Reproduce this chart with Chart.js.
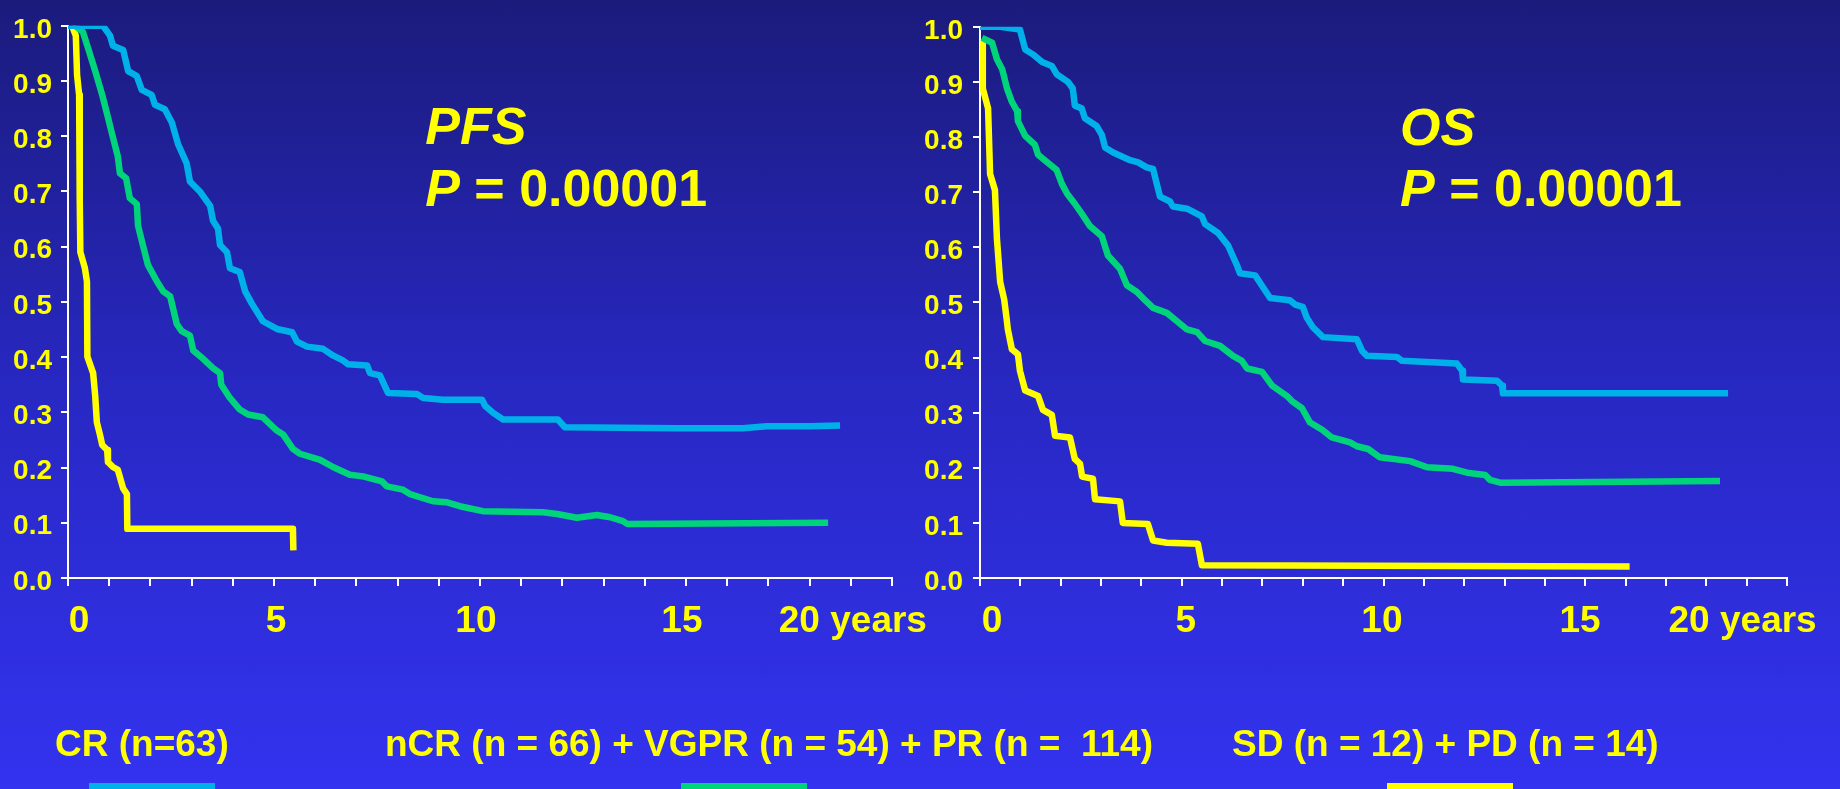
<!DOCTYPE html>
<html>
<head>
<meta charset="utf-8">
<script src="https://cdn.jsdelivr.net/npm/chart.js@4/dist/chart.umd.min.js"></script>
<style>
  html, body { margin: 0; padding: 0; }
  body {
    width: 1840px; height: 789px; overflow: hidden; position: relative;
    background: linear-gradient(to bottom, #1b1b7c 0%, #2828c4 50%, #3333f0 100%);
    font-family: "Liberation Sans", Arial, sans-serif;
  }
  canvas { position: absolute; top: 0; }
  #pfsChart { left: 0; }
  #osChart { left: 920px; }
  .group {
    position: absolute; top: 725px; color: #ffff00; white-space: pre;
    font: bold 37px/37px "Liberation Sans", Arial, sans-serif;
  }
  .swatch { position: absolute; top: 783px; width: 126px; height: 6px; }
</style>
</head>
<body>
<canvas id="pfsChart" width="960" height="789"></canvas>
<canvas id="osChart" width="920" height="789"></canvas>
<script>
// response groups
const groups = ["CR (n=63)", "nCR (n = 66) + VGPR (n = 54) + PR (n =  114)", "SD (n = 12) + PD (n = 14)"];
const groupColors = ["#00b0e8", "#00d47a", "#ffff00"];
const pValue = "0.00001";

// x tick labels (years)
const yearText = ["0", "5", "10", "15", "20 years"];

// PFS curves: time (years) / survival
const pfsCrT = [0, 0.85, 1.02, 1.09, 1.34, 1.46, 1.67, 1.79, 2.03, 2.11, 2.35, 2.52, 2.67, 2.88, 2.96, 3.2, 3.45, 3.52, 3.64, 3.69, 3.86, 3.93, 4.17, 4.3, 4.47, 4.73, 5.07, 5.44, 5.56, 5.8, 6.19, 6.43, 6.67, 6.8, 7.26, 7.33, 7.57, 7.77, 8.47, 8.62, 9.1, 10.05, 10.12, 10.32, 10.56, 11.89, 12.06, 14.78, 16.38, 16.96, 18.0, 18.74];
const pfsCrS = [1.0, 1.0, 0.982, 0.964, 0.956, 0.918, 0.909, 0.884, 0.875, 0.857, 0.849, 0.825, 0.786, 0.751, 0.718, 0.70, 0.674, 0.647, 0.633, 0.603, 0.59, 0.561, 0.554, 0.519, 0.496, 0.465, 0.451, 0.445, 0.428, 0.419, 0.415, 0.403, 0.394, 0.387, 0.385, 0.371, 0.367, 0.335, 0.333, 0.326, 0.323, 0.323, 0.312, 0.299, 0.287, 0.287, 0.273, 0.271, 0.271, 0.275, 0.275, 0.276];

const pfsPrT = [0, 0.17, 0.36, 0.49, 0.66, 0.83, 0.95, 1.07, 1.21, 1.26, 1.41, 1.5, 1.67, 1.7, 1.82, 1.94, 2.16, 2.31, 2.48, 2.64, 2.76, 2.96, 3.04, 3.28, 3.52, 3.69, 3.72, 3.93, 4.17, 4.37, 4.73, 5.07, 5.22, 5.46, 5.63, 6.12, 6.43, 6.84, 7.16, 7.62, 7.74, 8.13, 8.3, 8.86, 9.2, 9.51, 10.07, 11.53, 11.87, 12.35, 12.84, 13.16, 13.47, 13.57, 18.45];
const pfsPrS = [1.0, 1.0, 0.989, 0.959, 0.918, 0.875, 0.84, 0.804, 0.763, 0.733, 0.724, 0.688, 0.677, 0.638, 0.602, 0.567, 0.537, 0.519, 0.51, 0.46, 0.447, 0.439, 0.412, 0.397, 0.38, 0.371, 0.35, 0.326, 0.305, 0.296, 0.291, 0.267, 0.26, 0.234, 0.225, 0.214, 0.201, 0.187, 0.184, 0.175, 0.166, 0.16, 0.152, 0.139, 0.137, 0.13, 0.121, 0.119, 0.116, 0.109, 0.114, 0.11, 0.103, 0.098, 0.10];

const pfsSdT = [0.1, 0.19, 0.22, 0.27, 0.28, 0.29, 0.30, 0.41, 0.46, 0.47, 0.61, 0.66, 0.70, 0.78, 0.83, 0.95, 0.97, 1.09, 1.21, 1.34, 1.43, 1.44, 5.46, 5.47];
const pfsSdS = [1.0, 0.982, 0.911, 0.875, 0.804, 0.686, 0.59, 0.561, 0.537, 0.401, 0.371, 0.33, 0.282, 0.258, 0.241, 0.232, 0.21, 0.201, 0.196, 0.162, 0.152, 0.089, 0.089, 0.05];

// OS curves
const osCrT = [0, 0.5, 0.99, 1.12, 1.31, 1.54, 1.78, 1.9, 2.18, 2.3, 2.35, 2.52, 2.6, 2.89, 3.02, 3.1, 3.3, 3.72, 3.92, 4.13, 4.29, 4.34, 4.46, 4.71, 4.78, 5.13, 5.5, 5.58, 5.9, 6.15, 6.37, 6.44, 6.82, 7.01, 7.19, 7.68, 7.81, 8.0, 8.1, 8.25, 8.5, 9.34, 9.47, 9.59, 10.33, 10.46, 11.82, 11.95, 11.97, 12.81, 12.94, 12.96, 18.54];
const osCrS = [1.0, 1.0, 0.995, 0.959, 0.95, 0.936, 0.929, 0.914, 0.90, 0.888, 0.857, 0.852, 0.834, 0.82, 0.804, 0.781, 0.772, 0.758, 0.754, 0.745, 0.742, 0.727, 0.692, 0.683, 0.674, 0.67, 0.656, 0.642, 0.626, 0.603, 0.567, 0.553, 0.549, 0.528, 0.508, 0.504, 0.496, 0.492, 0.472, 0.455, 0.437, 0.433, 0.412, 0.403, 0.401, 0.394, 0.389, 0.376, 0.36, 0.358, 0.349, 0.335, 0.335];

const osPrT = [0.05, 0.3, 0.42, 0.55, 0.67, 0.79, 0.92, 0.94, 1.12, 1.36, 1.44, 1.9, 2.03, 2.16, 2.35, 2.53, 2.73, 3.02, 3.17, 3.47, 3.64, 3.89, 4.09, 4.29, 4.63, 4.83, 5.13, 5.38, 5.58, 5.95, 6.27, 6.49, 6.62, 6.99, 7.24, 7.61, 7.73, 7.98, 8.18, 8.48, 8.72, 9.17, 9.34, 9.62, 9.91, 10.66, 11.08, 11.72, 12.07, 12.52, 12.64, 12.89, 18.34];
const osPrS = [0.98, 0.971, 0.941, 0.923, 0.888, 0.864, 0.847, 0.829, 0.802, 0.786, 0.768, 0.74, 0.715, 0.697, 0.679, 0.66, 0.638, 0.62, 0.585, 0.561, 0.531, 0.519, 0.504, 0.49, 0.481, 0.469, 0.451, 0.446, 0.43, 0.421, 0.403, 0.394, 0.38, 0.374, 0.349, 0.33, 0.321, 0.308, 0.282, 0.269, 0.255, 0.246, 0.239, 0.234, 0.219, 0.212, 0.201, 0.198, 0.191, 0.187, 0.178, 0.173, 0.176];

const osSdT = [0.05, 0.07, 0.2, 0.25, 0.37, 0.42, 0.5, 0.6, 0.66, 0.69, 0.79, 0.94, 0.99, 1.12, 1.44, 1.56, 1.78, 1.86, 2.23, 2.35, 2.48, 2.53, 2.8, 2.85, 3.47, 3.54, 4.16, 4.29, 4.63, 5.4, 5.5, 16.1];
const osSdS = [0.97, 0.888, 0.852, 0.733, 0.704, 0.615, 0.537, 0.505, 0.47, 0.451, 0.415, 0.406, 0.376, 0.34, 0.33, 0.305, 0.296, 0.258, 0.255, 0.216, 0.207, 0.184, 0.18, 0.143, 0.139, 0.10, 0.098, 0.068, 0.064, 0.062, 0.023, 0.021];

const FONT = '"Liberation Sans", Arial, sans-serif';
const yellow = "#ffff00";

// year labels under the x axis, placed by year value
const yearLabels = {
  id: "yearLabels",
  afterDraw(chart, args, opts) {
    const ctx = chart.ctx;
    ctx.save();
    ctx.font = "bold 37px " + FONT;
    ctx.fillStyle = yellow;
    ctx.textAlign = "center";
    ctx.textBaseline = "alphabetic";
    opts.at.forEach((v, i) => {
      ctx.fillText(yearText[i], chart.scales.x.getPixelForValue(v), chart.chartArea.bottom + 54);
    });
    ctx.restore();
  },
};

// endpoint name and p-value inside the plot
const curveTitle = {
  id: "curveTitle",
  afterDraw(chart, args, opts) {
    const ctx = chart.ctx;
    const x = chart.scales.x.getPixelForValue(opts.x);
    const y1 = chart.scales.y.getPixelForValue(opts.y1);
    const y2 = chart.scales.y.getPixelForValue(opts.y2);
    ctx.save();
    ctx.fillStyle = yellow;
    ctx.textAlign = "left";
    ctx.textBaseline = "alphabetic";
    ctx.font = "italic bold 52px " + FONT;
    ctx.fillText(opts.name, x, y1);
    ctx.fillText("P", x, y2);
    const w = ctx.measureText("P").width;
    ctx.font = "bold 52px " + FONT;
    ctx.fillText(" = " + pValue, x + w, y2);
    ctx.restore();
  },
};

function toPoints(t, s) {
  return t.map((x, i) => ({ x: x, y: s[i] }));
}

function survivalChart(id, series, box, labelsAt, title) {
  return new Chart(document.getElementById(id).getContext("2d"), {
    type: "line",
    data: {
      datasets: series.map((d, i) => ({
        data: toPoints(d[0], d[1]),
        borderColor: groupColors[i],
        borderWidth: 6.5,
        borderJoinStyle: "round",
        pointRadius: 0,
        tension: 0,
        fill: false,
      })),
    },
    options: {
      responsive: false,
      animation: false,
      devicePixelRatio: 1,
      layout: { padding: { left: 0, top: 17, right: box.right, bottom: 181 } },
      plugins: {
        legend: { display: false },
        tooltip: { enabled: false },
        yearLabels: { at: labelsAt },
        curveTitle: title,
      },
      scales: {
        x: {
          type: "linear",
          min: 0,
          max: 20,
          afterFit: (s) => { s.height = 30; },
          ticks: { display: false, stepSize: 1, autoSkip: false },
          grid: { drawOnChartArea: false, tickLength: 8, color: "#ffffff", lineWidth: 2 },
          border: { color: "#ffffff", width: 2 },
        },
        y: {
          min: 0,
          max: 1,
          afterFit: (s) => { s.width = box.yWidth; },
          ticks: {
            stepSize: 0.1,
            callback: (v) => Number(v).toFixed(1),
            color: yellow,
            font: { family: FONT, size: 28, weight: "bold" },
            padding: box.yPad,
            labelOffset: 4,
          },
          grid: { drawOnChartArea: false, tickLength: 7, color: "#ffffff", lineWidth: 2 },
          border: { color: "#ffffff", width: 2 },
        },
      },
    },
    plugins: [yearLabels, curveTitle],
  });
}

survivalChart(
  "pfsChart",
  [[pfsCrT, pfsCrS], [pfsPrT, pfsPrS], [pfsSdT, pfsSdS]],
  { right: 68, yWidth: 68, yPad: 9 },
  [0.27, 5.05, 9.9, 14.9, 19.05],
  { name: "PFS", x: 8.67, y1: 0.786, y2: 0.674 }
);

survivalChart(
  "osChart",
  [[osCrT, osCrS], [osPrT, osPrS], [osSdT, osSdS]],
  { right: 53, yWidth: 60, yPad: 10 },
  [0.3, 5.1, 9.96, 14.87, 18.9],
  { name: "OS", x: 10.41, y1: 0.786, y2: 0.674 }
);

// group key along the bottom
const groupLeft = [55, 385, 1232];
const swatchLeft = [89, 681, 1387];
groups.forEach((g, i) => {
  const t = document.createElement("div");
  t.className = "group";
  t.style.left = groupLeft[i] + "px";
  t.textContent = g;
  document.body.appendChild(t);
  const s = document.createElement("div");
  s.className = "swatch";
  s.style.left = swatchLeft[i] + "px";
  s.style.background = groupColors[i];
  document.body.appendChild(s);
});
</script>
</body>
</html>
